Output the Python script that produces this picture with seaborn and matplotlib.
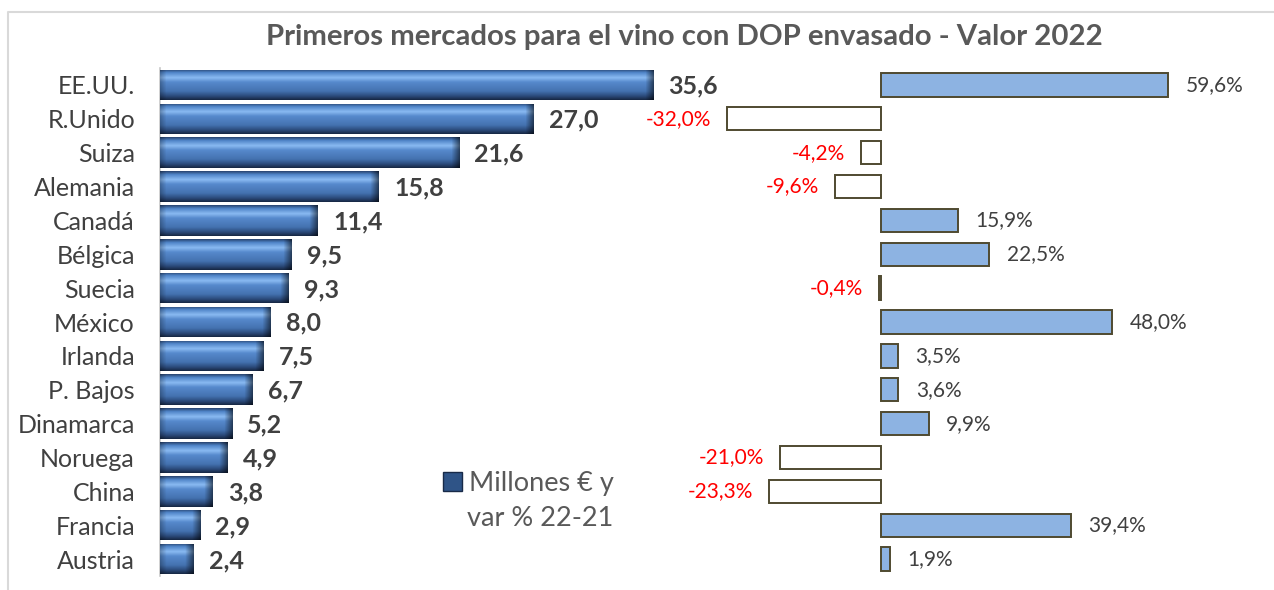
import matplotlib
matplotlib.use("Agg")
import matplotlib.pyplot as plt
import numpy as np
import pandas as pd
import seaborn as sns
from matplotlib.colors import to_rgb
from matplotlib.lines import Line2D
from matplotlib.patches import Patch

# data
paises = ["EE.UU.", "R.Unido", "Suiza", "Alemania", "Canadá", "Bélgica", "Suecia", "México",
          "Irlanda", "P. Bajos", "Dinamarca", "Noruega", "China", "Francia", "Austria"]
valor_2022 = [35.6, 27.0, 21.6, 15.8, 11.4, 9.5, 9.3, 8.0, 7.5, 6.7, 5.2, 4.9, 3.8, 2.9, 2.4]
var_22_21 = [59.6, -32.0, -4.2, -9.6, 15.9, 22.5, -0.4, 48.0, 3.5, 3.6, 9.9, -21.0, -23.3, 39.4, 1.9]

TITLE = "Primeros mercados para el vino con DOP envasado - Valor 2022"
LEGEND_1 = "Millones € y"
LEGEND_2 = "var % 22-21"

W, H = 1274, 590
FONT = "Lato"
GRAY = "#404040"


def px_box(x0, x1, y_top, y_bot):
    return [x0 / W, 1 - y_bot / H, (x1 - x0) / W, (y_bot - y_top) / H]


def fmt(v):
    return f"{v:.1f}".replace(".", ",")


def bevel_image(width_px, height_px):
    stops = [(0.00, "#2c4a78"), (0.10, "#5085c8"), (0.27, "#8abaf2"), (0.42, "#5689cc"),
             (0.72, "#4472b0"), (0.88, "#2c4b7c"), (1.00, "#182a48")]
    ys = np.linspace(0, 1, height_px)
    pos = [s[0] for s in stops]
    cols = np.array([to_rgb(s[1]) for s in stops])
    prof = np.stack([np.interp(ys, pos, cols[:, c]) for c in range(3)], axis=1)
    xs = np.arange(width_px)
    fade = np.clip((width_px - xs) / 9.0, 0, 1) * 0.6 + 0.4
    fade_l = np.clip(xs / 6.0, 0, 1) * 0.25 + 0.75
    img = prof[:, None, :] * (fade * fade_l)[None, :, None]
    return np.clip(img, 0, 1)


def main() -> None:
    sns.set_theme(style="white")
    plt.rcParams["font.family"] = [FONT, "DejaVu Sans"]

    df = pd.DataFrame({"pais": paises, "valor": valor_2022, "var": var_22_21})
    df["signo"] = np.where(df["var"] >= 0, "pos", "neg")

    fig = plt.figure(figsize=(W / 100, H / 100), dpi=100)

    # left panel: values
    sx = 13.85  # px per million
    ax1 = fig.add_axes(px_box(160, 660, 68, 576))
    sns.barplot(data=df, x="valor", y="pais", color="#3e6aa6", width=0.9, ax=ax1,
                orient="h", linewidth=0, saturation=1)
    for p in ax1.patches:
        x0, y0 = p.get_x(), p.get_y()
        w, h = p.get_width(), p.get_height()
        img = bevel_image(max(int(w * sx), 2), 30)
        im = ax1.imshow(img, extent=(x0, x0 + w, y0 + h, y0), aspect="auto",
                        interpolation="bilinear", zorder=3)
        im.set_clip_path(p)
    ax1.set_xlim(0, 500 / sx)
    ax1.set_ylim(14.5, -0.5)
    for i, v in enumerate(valor_2022):
        ax1.annotate(fmt(v), (v, i), xytext=(11, -1), textcoords="offset points",
                     ha="left", va="center", fontsize=18, fontweight="bold", color=GRAY)
    ax1.set_xlabel("")
    ax1.set_ylabel("")
    ax1.set_xticks([])
    ax1.tick_params(axis="y", length=0, pad=18, labelsize=18, labelcolor=GRAY)
    for s in ["top", "right", "bottom"]:
        ax1.spines[s].set_visible(False)
    ax1.spines["left"].set_color("#c8c8c8")
    ax1.spines["left"].set_linewidth(1.2)
    ax1.patch.set_alpha(0)

    # right panel: % change
    sv = 4.815  # px per percentage point
    ax2 = fig.add_axes(px_box(690, W, 68, 576))
    sns.barplot(data=df, x="var", y="pais", hue="signo", dodge=False, legend=False,
                palette={"pos": "#8db3e2", "neg": "white"}, width=0.69, saturation=1,
                edgecolor="#4f4a30", linewidth=1.4, ax=ax2, orient="h")
    ax2.set_xlim(-(881 - 690) / sv, (W - 881) / sv)
    ax2.set_ylim(14.5, -0.5)
    for i, v in enumerate(var_22_21):
        if v >= 0:
            ax2.annotate(fmt(v) + "%", (v, i), xytext=(12.5, 0), textcoords="offset points",
                         ha="left", va="center", fontsize=15, color=GRAY)
        else:
            ax2.annotate(fmt(v) + "%", (v, i), xytext=(-11.5, 0), textcoords="offset points",
                         ha="right", va="center", fontsize=15, color="#ff0000")
    ax2.axis("off")

    # title
    fig.text(684 / W, 1 - 37 / H, TITLE, ha="center", va="center", fontsize=21.2,
             fontweight="bold", color="#595959")

    # legend
    fig.legend(handles=[Patch(facecolor="#2f5487", edgecolor="#182a48", linewidth=1)],
               labels=[LEGEND_1], loc="center left", bbox_to_anchor=(443 / W, 1 - 483 / H),
               frameon=False, fontsize=19.5, labelcolor="#595959", handlelength=0.7,
               handleheight=0.7, handletextpad=0.25, borderaxespad=0, borderpad=0)
    fig.text(467 / W, 1 - 518 / H, LEGEND_2, ha="left", va="center", fontsize=19.5,
             color="#595959")

    # chart frame
    fig.add_artist(Line2D([8 / W, 8 / W, 1.0], [0.0, 1 - 12 / H, 1 - 12 / H],
                          transform=fig.transFigure, color="#d9d9d9", lw=1.5))

    fig.savefig("out.png", dpi=100)
    plt.close(fig)


if __name__ == "__main__":
    main()
